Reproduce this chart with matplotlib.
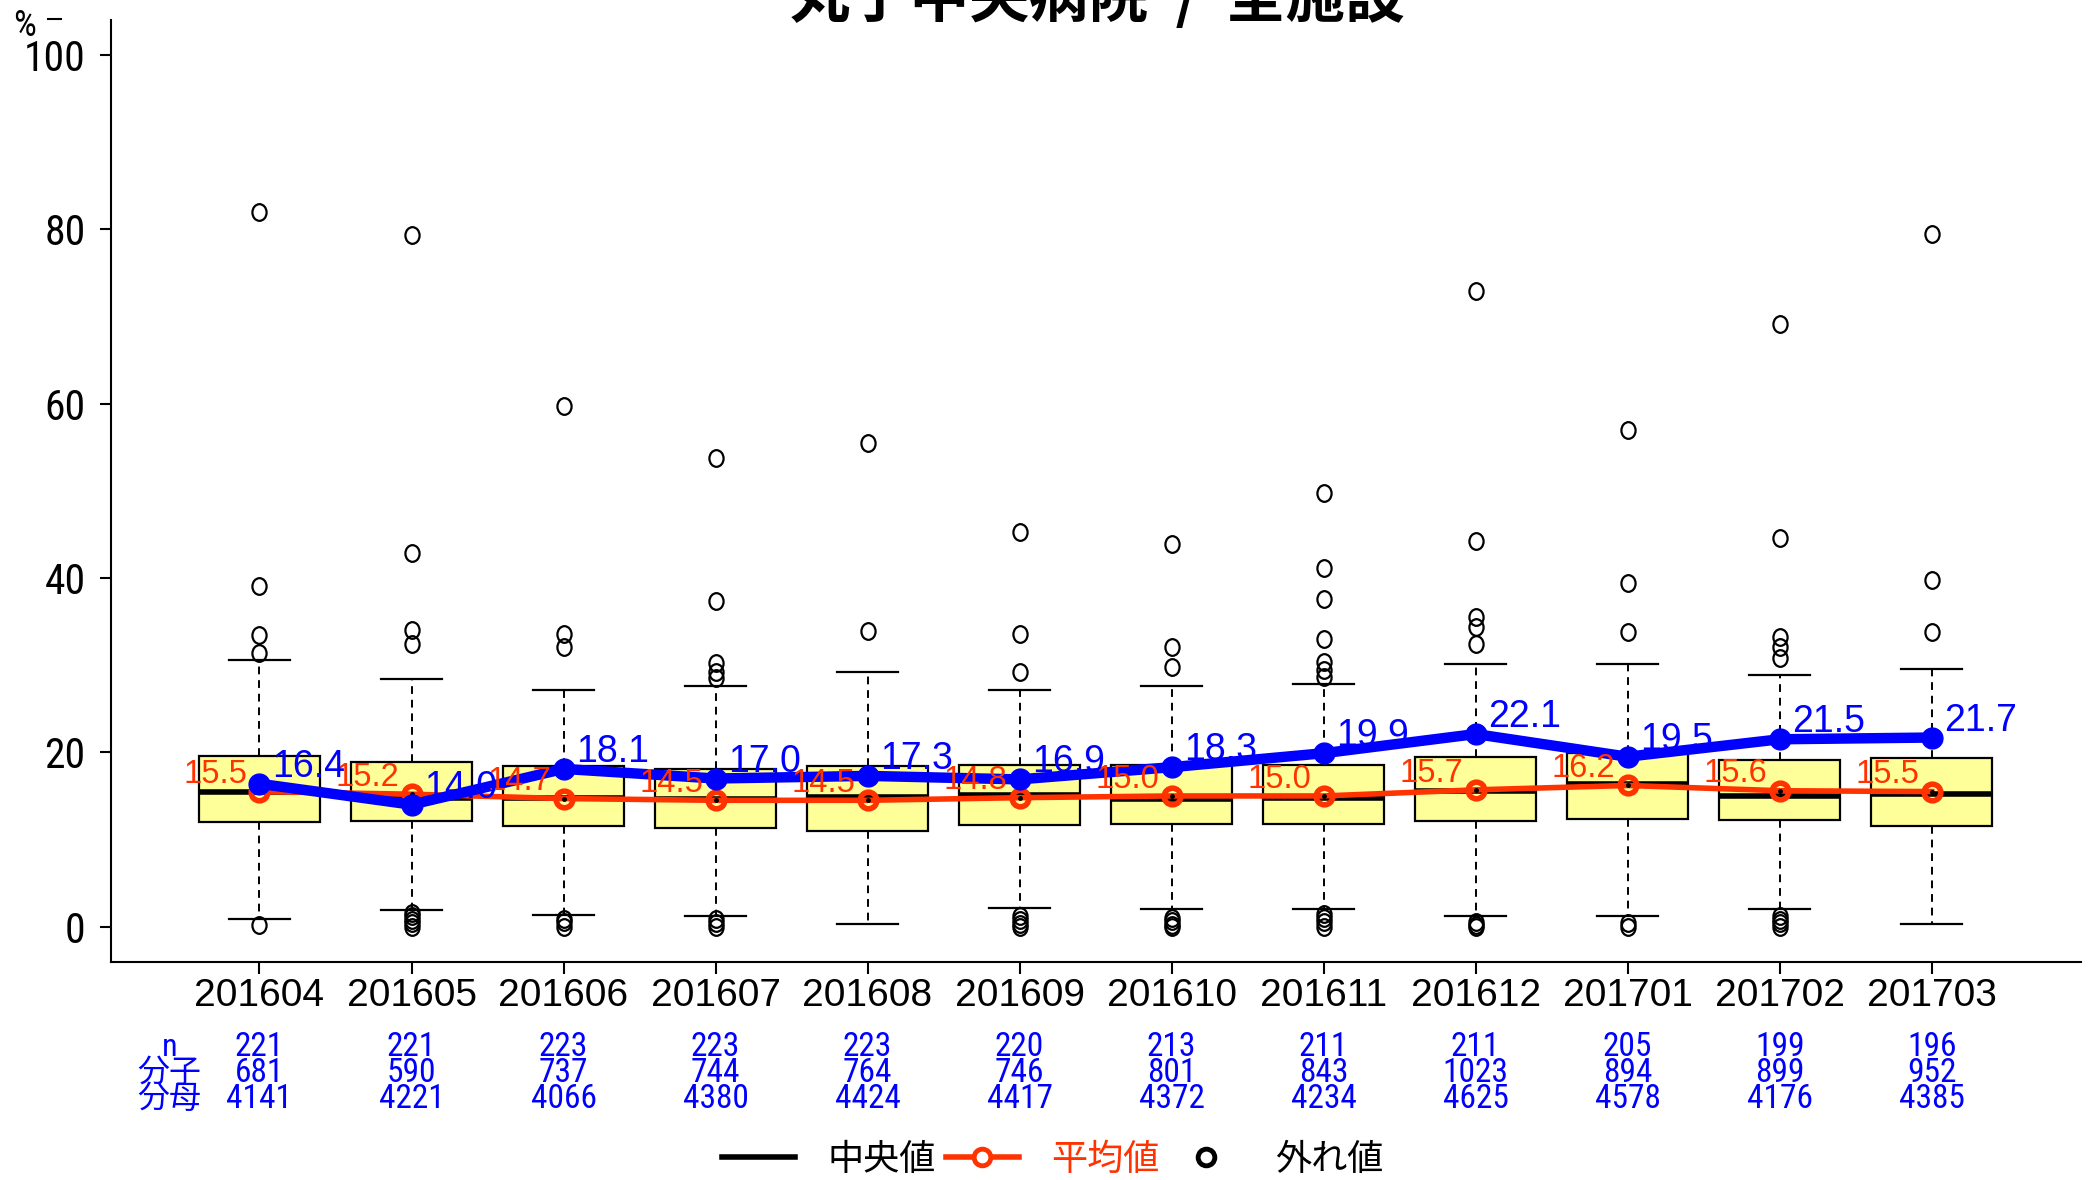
import matplotlib
matplotlib.use("Agg")
import matplotlib.pyplot as plt
from matplotlib import font_manager
from matplotlib.lines import Line2D
from matplotlib.markers import MarkerStyle
import matplotlib.transforms as mtransforms

# monthly data
months = ["201604", "201605", "201606", "201607", "201608", "201609",
          "201610", "201611", "201612", "201701", "201702", "201703"]
n_hosp = [221, 221, 223, 223, 223, 220, 213, 211, 211, 205, 199, 196]
numer = [681, 590, 737, 744, 764, 746, 801, 843, 1023, 894, 899, 952]
denom = [4141, 4221, 4066, 4380, 4424, 4417, 4372, 4234, 4625, 4578, 4176, 4385]

medians = [15.4, 14.8, 14.8, 14.6, 14.9, 15.1, 14.7, 14.8, 15.6, 16.4, 15.0, 15.2]
q1 = [12.0, 12.1, 11.5, 11.3, 11.0, 11.7, 11.8, 11.8, 12.1, 12.4, 12.2, 11.6]
q3 = [19.6, 18.9, 18.4, 18.1, 18.4, 18.5, 18.6, 18.5, 19.5, 19.9, 19.1, 19.3]
whis_lo = [0.9, 1.9, 1.4, 1.25, 0.3, 2.1, 2.0, 2.0, 1.2, 1.2, 2.0, 0.3]
whis_hi = [30.6, 28.4, 27.2, 27.6, 29.2, 27.2, 27.6, 27.8, 30.1, 30.1, 28.9, 29.6]
out_hi = [[82.0, 39.1, 33.5, 31.4],
          [79.4, 42.9, 34.0, 32.4],
          [59.7, 33.6, 32.1],
          [53.8, 37.4, 30.2, 29.2, 28.5],
          [55.5, 33.9],
          [45.3, 33.6, 29.2],
          [43.9, 32.1, 29.8],
          [49.7, 41.1, 37.6, 33.0, 30.4, 29.4, 28.6],
          [72.9, 44.2, 35.5, 34.4, 32.4],
          [57.0, 39.4, 33.8],
          [69.1, 44.6, 33.2, 32.1, 30.8],
          [79.5, 39.8, 33.8]]
out_lo = [[0.2], [1.6, 1.2, 0.8, 0.4, 0.0], [0.9, 0.5, 0.0], [0.9, 0.4, 0.0], [],
          [1.2, 0.8, 0.3, 0.0], [1.0, 0.6, 0.2, 0.0], [1.5, 1.0, 0.5, 0.0],
          [0.5, 0.2, 0.0], [0.4, 0.0], [1.2, 0.8, 0.4, 0.0], []]
means = [15.5, 15.2, 14.7, 14.5, 14.5, 14.8, 15.0, 15.0, 15.7, 16.2, 15.6, 15.5]
overall = [16.4, 14.0, 18.1, 17.0, 17.3, 16.9, 18.3, 19.9, 22.1, 19.5, 21.5, 21.7]

RED = "#FF3300"
BLUE = "#0000FF"
CJK = "Noto Sans CJK JP"
names = {f.name for f in font_manager.fontManager.ttflist}
NARROW = "Liberation Sans"
for cand in ["Liberation Sans Narrow", "Roboto Condensed", "Archivo Narrow"]:
    if cand in names:
        NARROW = cand
        break

plt.rcParams["font.family"] = ["Liberation Sans", CJK]

fig = plt.figure(figsize=(20.89, 11.80), dpi=100)
ax = fig.add_axes([0.0529, 0.1851, 0.9431, 0.7979])

x = list(range(1, len(months) + 1))
stats = []
for i in range(len(months)):
    stats.append(dict(med=medians[i], q1=q1[i], q3=q3[i],
                      whislo=whis_lo[i], whishi=whis_hi[i],
                      fliers=out_hi[i] + out_lo[i]))

# slightly tall open circles, like the outliers in the original
oval = MarkerStyle("o", fillstyle="none", transform=mtransforms.Affine2D().scale(0.85, 1.0))

ax.bxp(stats, positions=x, widths=0.8, capwidths=0.4, patch_artist=True,
       boxprops=dict(facecolor="#FFFF99", edgecolor="black", linewidth=1.6),
       whiskerprops=dict(color="black", linewidth=1.4, linestyle=(0, (4, 3))),
       capprops=dict(color="black", linewidth=1.6),
       medianprops=dict(color="black", linewidth=4),
       flierprops=dict(marker=oval, markeredgecolor="black",
                       markersize=12, markeredgewidth=1.6))

# mean line (red) and overall rate (blue)
ax.plot(x, means, color=RED, lw=4, marker="o", ms=12, mfc="none", mec=RED, mew=4, zorder=4)
ax.plot(x, means, ls="none", marker="o", ms=2.5, color="black", zorder=5)
ax.plot(x, overall, color=BLUE, lw=7.5, marker="o", ms=15, zorder=6)

for xi, v in zip(x, means):
    ax.annotate(f"{v:.1f}", (xi, v), xytext=(-9, 6), textcoords="offset points",
                ha="right", va="baseline", color=RED, fontsize=23.5, zorder=7)
for xi, v in zip(x, overall):
    ax.annotate(f"{v:.1f}", (xi, v), xytext=(9, 5), textcoords="offset points",
                ha="left", va="baseline", color=BLUE, fontsize=27, zorder=8)

ax.set_xlim(0.02, 12.98)
ax.set_ylim(-4, 104)
yt = [0, 20, 40, 60, 80, 100]
ax.set_yticks(yt, labels=[str(v) for v in yt], fontfamily=NARROW, fontsize=30)
ax.set_xticks(x, labels=months)
ax.tick_params(axis="y", direction="out", length=8, width=1.5, pad=10)
ax.tick_params(axis="x", direction="out", length=8.5, width=1.5, pad=3, labelsize=28)
for side in ["top", "right"]:
    ax.spines[side].set_visible(False)
for side in ["left", "bottom"]:
    ax.spines[side].set_linewidth(1.5)

# counts table under the axis
tr = mtransforms.blended_transform_factory(ax.transData, fig.transFigure)
rows = [("n", n_hosp), ("分子", numer), ("分母", denom)]
row_y = [1 - 1047 / 1180, 1 - 1073 / 1180, 1 - 1099 / 1180]
for (lab, vals), yy in zip(rows, row_y):
    ax.text(0.41, yy, lab, transform=tr, ha="center", va="center", color=BLUE,
            fontsize=23, family=[NARROW, CJK], clip_on=False)
    for xi, v in zip(x, vals):
        ax.text(xi, yy, str(v), transform=tr, ha="center", va="center", color=BLUE,
                fontsize=24, family=[NARROW, CJK], clip_on=False)

# title (partly cut off at the top, as in the original) and unit mark
fig.text(1097 / 2089, 1 - 17 / 1180, "丸子中央病院  /  全施設", ha="center", va="baseline",
         fontsize=43, fontweight="bold", family=[CJK])
fig.text(25 / 2089, 1 - 26 / 1180, "%", ha="center", va="center", fontsize=26, family=NARROW)
fig.add_artist(Line2D([48 / 2089, 61 / 2089], [1 - 19 / 1180] * 2, color="black", lw=1.5))

handles = [Line2D([], [], color="black", lw=4),
           Line2D([], [], color=RED, lw=4, marker="o", ms=12, mfc="white", mec=RED, mew=3.5),
           Line2D([], [], ls="none", marker="o", ms=12, mfc="white", mec="black", mew=3.5)]
leg = fig.legend(handles, ["中央値", "平均値", "外れ値"], loc="center", ncol=3,
                 bbox_to_anchor=(0.504, 1 - 1160 / 1180), frameon=False,
                 prop={"family": [CJK], "size": 26}, handlelength=2.0,
                 handletextpad=0.9, columnspacing=0.3, borderpad=0, borderaxespad=0)
for t, c in zip(leg.get_texts(), ["black", RED, "black"]):
    t.set_color(c)

fig.savefig("out.png", dpi=100)
